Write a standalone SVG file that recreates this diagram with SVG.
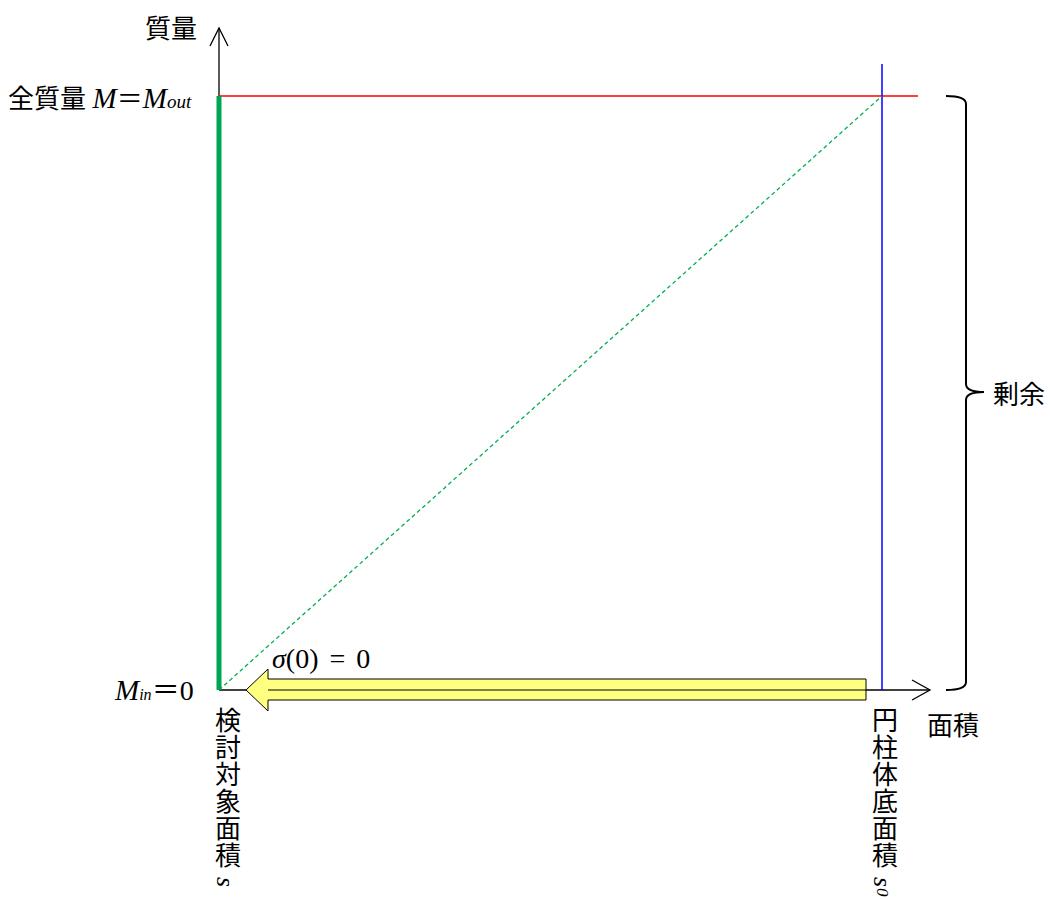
<svg xmlns="http://www.w3.org/2000/svg" width="1052" height="899" viewBox="0 0 1052 899">
<style>
.jp{font-family:"Liberation Serif","Noto Sans CJK JP",serif;font-size:26px;fill:#000}
.mi{font-family:"Liberation Serif",serif;font-style:italic;fill:#000}
.vt{writing-mode:tb;letter-spacing:1px}
.ax{stroke:#000;stroke-width:1.3;fill:none}
</style>
<rect width="1052" height="899" fill="#fff"/>
<g id="connectors">
<line x1="219" y1="690" x2="219" y2="28" class="ax"/>
<polyline points="210,46 219,28 228,46" class="ax"/>
<line x1="219" y1="690" x2="930" y2="690" class="ax"/>
<polyline points="912,680 930,690 912,700" class="ax"/>
<line x1="219" y1="96" x2="918" y2="96" stroke="#ff0000" stroke-width="1.5"/>
<line x1="882" y1="64" x2="882" y2="690" stroke="#0000ff" stroke-width="1.5"/>
<line x1="219" y1="690" x2="882" y2="96" stroke="#00b050" stroke-width="1.3" stroke-dasharray="4,3"/>
<line x1="219" y1="96" x2="219" y2="690" stroke="#00a550" stroke-width="5"/>
<path d="M946,96 Q966,96 966,104 L966,384 Q966,392 984,392 Q966,392 966,400 L966,682 Q966,690 946,690" fill="none" stroke="#000" stroke-width="2"/>
</g>
<g id="arrow">
<path d="M866,679 L268,679 L268,669 L246,690 L268,711 L268,700 L866,700 Z" fill="#ffff80" stroke="#000" stroke-width="1"/>
<line x1="268" y1="690" x2="866" y2="690" stroke="#000" stroke-width="1"/>
</g>
<g id="labels">
<text x="145" y="38" class="jp">質量</text>
<text x="8" y="108" class="jp">全質量 <tspan class="mi" font-size="29">M</tspan><tspan>＝</tspan><tspan class="mi" font-size="29">M</tspan><tspan class="mi" font-size="19">out</tspan></text>
<text x="115" y="700" class="jp"><tspan class="mi" font-size="29">M</tspan><tspan class="mi" font-size="16">in</tspan><tspan font-size="28">＝0</tspan></text>
<text x="272" y="668" font-family="'Liberation Serif',serif" font-size="28" word-spacing="4"><tspan font-style="italic">σ</tspan>(0) = 0</text>
<text x="993" y="404" class="jp">剰余</text>
<text x="927" y="735" class="jp">面積</text>
<text x="225" y="707" class="jp vt">検討対象面積 <tspan class="mi">s</tspan></text>
<text x="882" y="707" class="jp vt">円柱体底面積 <tspan class="mi">s</tspan><tspan class="mi" font-size="17">0</tspan></text>
</g>
</svg>
